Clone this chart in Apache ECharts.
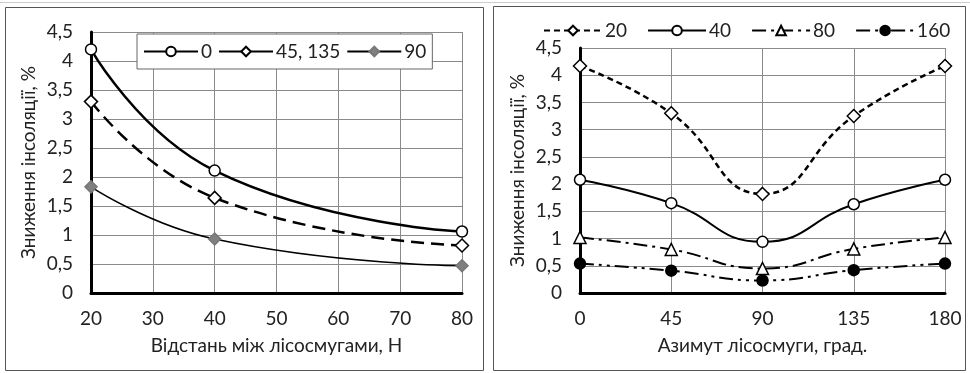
<!DOCTYPE html>
<html>
<head>
<meta charset="utf-8">
<script src="https://cdn.jsdelivr.net/npm/echarts@6/dist/echarts.min.js"></script>
<style>
html, body { margin: 0; padding: 0; background: #fff; }
#chart { width: 970px; height: 373px; }
</style>
</head>
<body>
<div id="chart"></div>
<script>
// ліва діаграма: відстань між лісосмугами
var distances = [20, 40, 80];
var az0 = [4.2, 2.11, 1.06];
var az45 = [3.3, 1.64, 0.82];
var az90 = [1.83, 0.93, 0.47];

// права діаграма: азимут лісосмуги
var azimuths = [0, 45, 90, 135, 180];
var h20 = [4.17, 3.3, 1.82, 3.25, 4.17];
var h40 = [2.08, 1.65, 0.94, 1.63, 2.08];
var h80 = [1.02, 0.8, 0.45, 0.81, 1.02];
var h160 = [0.54, 0.41, 0.23, 0.42, 0.54];

var FONT = 'Lato';
var FS = 19;

function pairs(xs, ys) {
    return xs.map(function (x, i) { return [x, ys[i]]; });
}

function comma(v) {
    return String(v).replace('.', ',');
}

function xAxis(idx, min, max, step, name) {
    return {
        type: 'value', gridIndex: idx, min: min, max: max, interval: step,
        name: name, nameLocation: 'middle', nameGap: 43,
        nameTextStyle: { color: '#222', fontSize: FS, fontFamily: FONT },
        axisLine: { show: true, onZero: false, lineStyle: { color: '#000', width: 3 } },
        axisTick: { show: false },
        axisLabel: { color: '#222', fontSize: FS, fontFamily: FONT, margin: 16 },
        splitLine: { show: true, lineStyle: { color: '#8a8a8a', width: 1 } }
    };
}

function yAxis(idx) {
    return {
        type: 'value', gridIndex: idx, min: 0, max: 4.5, interval: 0.5,
        name: 'Зниження інсоляції, %', nameLocation: 'middle', nameGap: 53,
        nameTextStyle: { color: '#222', fontSize: FS, fontFamily: FONT },
        axisLine: { show: true, lineStyle: { color: '#000', width: 3 } },
        axisTick: { show: false },
        axisLabel: { color: '#222', fontSize: FS, fontFamily: FONT, margin: 18, formatter: comma },
        splitLine: { show: true, lineStyle: { color: '#8a8a8a', width: 1 } }
    };
}

function line(name, idx, data, opt) {
    return {
        name: name, type: 'line', xAxisIndex: idx, yAxisIndex: idx,
        data: data, smooth: true, z: 5,
        symbol: opt.symbol, symbolSize: opt.size || 11,
        lineStyle: { color: opt.color || '#000', width: opt.width || 2.5, type: opt.dash || 'solid' },
        itemStyle: { color: opt.fill || '#fff', borderColor: opt.border || '#000', borderWidth: 1.5 }
    };
}

var chart = echarts.init(document.getElementById('chart'), null, { renderer: 'canvas' });

chart.setOption({
    backgroundColor: '#fff',
    animation: false,
    graphic: [
        { type: 'rect', shape: { x: 5.5, y: 7.5, width: 478, height: 363 }, style: { fill: null, stroke: '#555', lineWidth: 1 } },
        { type: 'rect', shape: { x: 493.5, y: 6.5, width: 472, height: 364 }, style: { fill: null, stroke: '#555', lineWidth: 1 } },
        { type: 'line', shape: { x1: 0, y1: 2.5, x2: 970, y2: 2.5 }, style: { stroke: '#ccc', lineWidth: 1 } }
    ],
    legend: [
        {
            data: [
                { name: '0' },
                { name: '45, 135', lineStyle: { type: 'solid', color: '#000' } },
                { name: '90', lineStyle: { color: '#000' } }
            ],
            left: 137, top: 34, width: 286, height: 36,
            padding: [8, 6, 8, 6], itemGap: 6, itemWidth: 54, itemHeight: 12,
            backgroundColor: '#fff', borderColor: '#666', borderWidth: 1,
            textStyle: { color: '#222', fontSize: FS, fontFamily: FONT, padding: [0, 0, 0, -2] }
        },
        {
            data: ['20', '40', '80', '160'],
            left: 538, top: 16, itemGap: 20, itemWidth: 58, itemHeight: 12,
            textStyle: { color: '#222', fontSize: FS, fontFamily: FONT, padding: [0, 0, 0, -2] }
        }
    ],
    grid: [
        { left: 91, top: 32, width: 371, height: 261 },
        { left: 580, top: 48, width: 365, height: 245 }
    ],
    xAxis: [
        xAxis(0, 20, 80, 10, 'Відстань між лісосмугами, Н'),
        xAxis(1, 0, 180, 45, 'Азимут лісосмуги, град.')
    ],
    yAxis: [yAxis(0), yAxis(1)],
    series: [
        line('0', 0, pairs(distances, az0), { symbol: 'circle', width: 2.5 }),
        line('45, 135', 0, pairs(distances, az45), { symbol: 'diamond', size: 13, width: 2.5, dash: [13, 7] }),
        line('90', 0, pairs(distances, az90), { symbol: 'diamond', size: 12, width: 1.5, fill: '#808080', border: '#777' }),
        line('20', 1, pairs(azimuths, h20), { symbol: 'diamond', size: 13, width: 2.5, dash: [6, 4] }),
        line('40', 1, pairs(azimuths, h40), { symbol: 'circle', width: 2 }),
        line('80', 1, pairs(azimuths, h80), { symbol: 'triangle', size: 12, width: 2, dash: [14, 5, 3, 5] }),
        line('160', 1, pairs(azimuths, h160), { symbol: 'circle', width: 2, fill: '#000', dash: [14, 5, 3, 5, 3, 5] })
    ]
});
</script>
</body>
</html>
